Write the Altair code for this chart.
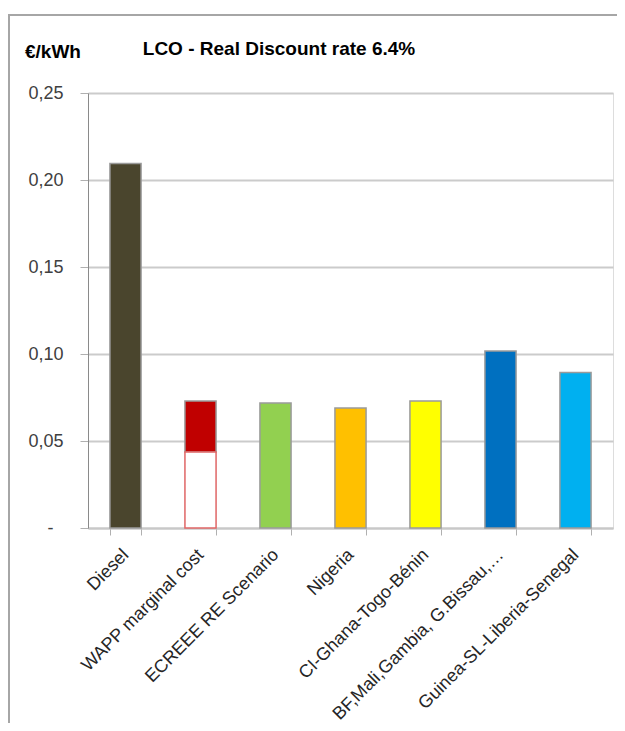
import altair as alt
import pandas as pd

categories = ["Diesel", "WAPP marginal cost", "ECREEE RE Scenario", "Nigeria",
              "CI-Ghana-Togo-Bénin", "BF,Mali,Gambia, G.Bissau,…",
              "Guinea-SL-Liberia-Senegal"]
values = [0.2095, 0.073, 0.0718, 0.069, 0.073, 0.1017, 0.0893]
wapp_lower = 0.0437
colors = ["#4A452D", "#C00000", "#92D050", "#FFC000", "#FFFF00", "#0070C0", "#00B0F0"]
title_text = "LCO - Real Discount rate 6.4%"
unit_text = "€/kWh"

rows = []
for c, v, col in zip(categories, values, colors):
    start = wapp_lower if c == "WAPP marginal cost" else 0.0
    rows.append({"cat": c, "start": start, "end": v, "fill": col, "stroke": "#9a9a9a"})
rows.append({"cat": "WAPP marginal cost", "start": 0.0, "end": wapp_lower,
             "fill": "#FFFFFF", "stroke": "#E06666"})
df = pd.DataFrame(rows)

FONT = "Liberation Sans"

x_enc = alt.X("cat:N", sort=categories, title=None,
              scale=alt.Scale(paddingInner=0.585, paddingOuter=0.2925),
              axis=alt.Axis(labelAngle=-45, labelAlign="right", labelBaseline="middle",
                            labelPadding=17, labelFontSize=18, labelColor="#262626",
                            labelFont=FONT, tickBand="extent", tickSize=7,
                            tickColor="#b0b0b0", domainColor="#c8c8c8", domainWidth=2,
                            grid=False, labelLimit=300))
y_enc = alt.Y("start:Q", title=None,
              scale=alt.Scale(domain=[0, 0.25], nice=False),
              axis=alt.Axis(values=[0, 0.05, 0.10, 0.15, 0.20, 0.25],
                            labelExpr="datum.value == 0 ? '-' : replace(format(datum.value, '.2f'), '.', ',')",
                            labelFontSize=18, labelColor="#404040", labelFont=FONT,
                            labelPadding={"condition": {"test": "datum.value == 0", "value": 27},
                                          "value": 17},
                            tickSize=8, tickColor="#b0b0b0",
                            domainColor="#8a8a8a", gridColor="#cbcbcb", gridWidth=2))

bars = alt.Chart(df).mark_bar(strokeWidth=1.5).encode(
    x=x_enc,
    y=y_enc,
    y2="end:Q",
    fill=alt.Fill("fill:N", scale=None),
    stroke=alt.Stroke("stroke:N", scale=None),
)

one = alt.Data(values=[{"a": 1}])
frame_top = alt.Chart(one).mark_rule(stroke="#a6a6a6", strokeWidth=2).encode(
    x=alt.value(-80), x2=alt.value(540), y=alt.value(-78))
frame_left = alt.Chart(one).mark_rule(stroke="#a6a6a6", strokeWidth=2).encode(
    x=alt.value(-79), y=alt.value(-79), y2=alt.value(640))

title = alt.Chart(one).mark_text(font=FONT, fontSize=19, fontWeight="bold",
                                 color="#000000", align="center", baseline="middle").encode(
    x=alt.value(191), y=alt.value(-44), text=alt.value(title_text))
unit = alt.Chart(one).mark_text(font=FONT, fontSize=19, fontWeight="bold",
                                color="#000000", align="left", baseline="middle").encode(
    x=alt.value(-63), y=alt.value(-41), text=alt.value(unit_text))

chart = alt.layer(frame_top, frame_left, bars, title, unit).properties(
    width=525, height=435,
    autosize=alt.AutoSizeParams(type="none"),
    padding={"left": 80, "top": 85, "right": 4, "bottom": 195},
).configure_view(stroke=None).configure(background="white")

chart.save("out.html", embed_options={"renderer": "svg", "actions": False})
